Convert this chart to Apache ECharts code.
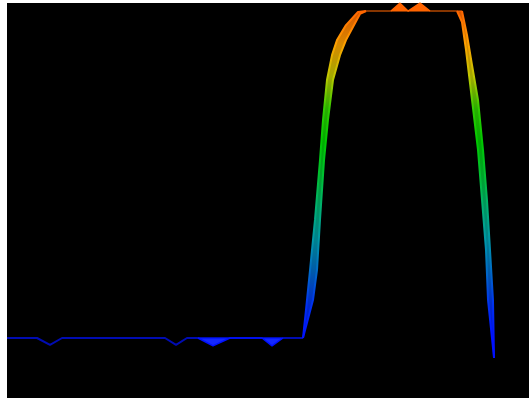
<!DOCTYPE html>
<html>
<head>
<meta charset="utf-8">
<script src="https://cdn.jsdelivr.net/npm/echarts@6/dist/echarts.min.js"></script>
<style>
  html, body { margin: 0; padding: 0; background: #fff; }
  #main { width: 529px; height: 398px; }
</style>
</head>
<body>
<div id="main"></div>
<script>
// floor line with two small dips (height 0 = floor level)
var floorX = [0, 0.575, 0.824, 1.054, 3.027, 3.238, 3.448, 5.670];
var floorY = [0, 0, -0.021, 0, 0, -0.021, 0, 0];

// front edge of the rise and of the fall
var frontRiseX = [5.670, 5.728, 5.805, 5.900, 5.996, 6.054, 6.130, 6.226, 6.322, 6.494, 6.724, 6.877];
var frontRiseY = [0, 0.086, 0.208, 0.361, 0.544, 0.667, 0.789, 0.865, 0.911, 0.957, 0.997, 1.000];
var frontFallX = [8.716, 8.812, 8.908, 9.023, 9.119, 9.195, 9.253, 9.310, 9.330];
var frontFallY = [1.000, 0.927, 0.835, 0.728, 0.575, 0.422, 0.269, 0.116, -0.061];

// back edge of the rise and of the fall
var backRiseX = [5.670, 5.862, 5.939, 5.996, 6.073, 6.149, 6.245, 6.379, 6.494, 6.628, 6.762, 6.877];
var backRiseY = [0, 0.116, 0.208, 0.361, 0.544, 0.667, 0.789, 0.865, 0.911, 0.951, 0.991, 1.000];
var backFallX = [8.621, 8.716, 8.793, 8.908, 9.023, 9.100, 9.176, 9.215, 9.330];
var backFallY = [1.000, 0.966, 0.881, 0.728, 0.575, 0.422, 0.269, 0.116, -0.061];

// plateau
var plateauX = [6.877, 8.716];
var plateauY = [1.000, 1.000];

// small filled dips on the floor and bumps on the plateau
var dipX = [3.659, 3.946, 4.272, 4.885, 5.077, 5.287];
var dipY = [0, -0.024, 0, 0, -0.024, 0];
var bumpX = [7.356, 7.529, 7.682, 7.912, 8.103];
var bumpY = [1.000, 1.024, 1.000, 1.024, 1.000];

// height colour ramp, evenly spaced from 0 to 1
var colors = ['#0010ff', '#0030f0', '#0068c8', '#0098a8', '#00b070', '#00c030',
              '#00c800', '#30cc00', '#c0c800', '#ffa000', '#ff6400'];

function pairs(xs, ys) {
  return xs.map(function (x, i) { return [x, ys[i]]; });
}

// band polygons between front and back edges
var bands = [
  pairs(frontRiseX, frontRiseY).concat(pairs(backRiseX, backRiseY).reverse()),
  pairs(frontFallX, frontFallY).concat(pairs(backFallX, backFallY).reverse())
];

function lineSeries(xs, ys, width, opacity, area) {
  var s = {
    type: 'line',
    data: pairs(xs, ys),
    symbol: 'none',
    lineStyle: { width: width, opacity: opacity },
    clip: false,
    animation: false
  };
  if (area) s.areaStyle = area;
  return s;
}

var chart = echarts.init(document.getElementById('main'));
chart.setOption({
  backgroundColor: '#fff',
  animation: false,
  grid: { left: 7, top: 3, right: 0, bottom: 0, show: true, backgroundColor: '#000', borderWidth: 0 },
  xAxis: { type: 'value', min: 0, max: 10, show: false },
  yAxis: { type: 'value', min: -0.1835, max: 1.0245, show: false },
  visualMap: {
    show: false,
    type: 'continuous',
    dimension: 1,
    min: 0,
    max: 1,
    seriesIndex: [1, 2, 3, 4, 5, 6, 7, 8],
    inRange: { color: colors }
  },
  series: [
    {
      type: 'custom',
      data: bands.map(function (b, i) { return [i]; }),
      encode: { x: -1, y: -1 },
      renderItem: function (params, api) {
        var pts = bands[params.dataIndex].map(function (p) { return api.coord(p); });
        var y0 = api.coord([0, 0])[1];
        var y1 = api.coord([0, 1])[1];
        var stops = colors.map(function (c, i) { return { offset: i / (colors.length - 1), color: c }; });
        return {
          type: 'polygon',
          shape: { points: pts },
          style: { fill: new echarts.graphic.LinearGradient(0, y0, 0, y1, stops, true), opacity: 0.85 }
        };
      },
      animation: false
    },
    lineSeries(floorX, floorY, 2, 0.7),
    lineSeries(dipX, dipY, 1.5, 1, { color: '#1428ff', opacity: 1, origin: 0 }),
    lineSeries(bumpX, bumpY, 1.5, 1, { color: '#ff6400', opacity: 1, origin: 1 }),
    lineSeries(plateauX, plateauY, 1.5, 0.7),
    lineSeries(backRiseX, backRiseY, 2, 1),
    lineSeries(backFallX, backFallY, 2, 1),
    lineSeries(frontRiseX, frontRiseY, 2, 1),
    lineSeries(frontFallX, frontFallY, 2, 1)
  ]
});
</script>
</body>
</html>
